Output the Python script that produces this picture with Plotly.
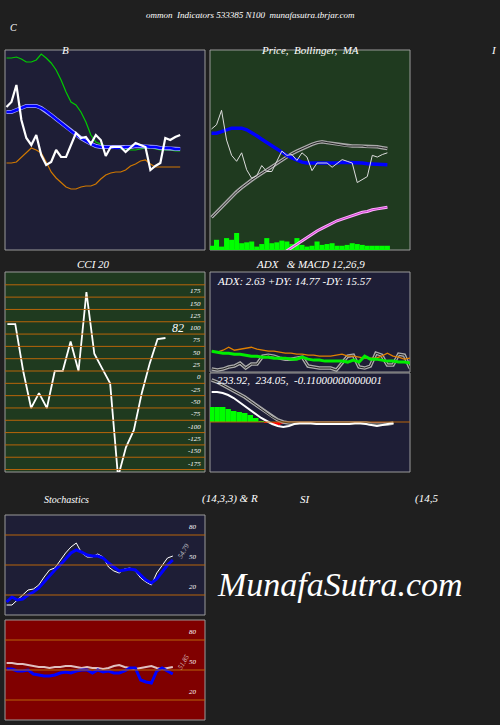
import plotly.graph_objects as go

W, H = 500, 725
BG = "#1f1f1f"
NAVY = "#1e1e36"
GREEN_BG = "#1f3a1f"
RED_BG = "#800000"
GRID = "#b8650a"
FONT = dict(family="Liberation Serif", color="white", style="italic")

# Bollinger panel (B) and price panel
price = [143, 148, 165, 130, 112, 105, 115, 95, 85, 88, 100, 93, 93, 105, 117, 112, 113, 106,
         115, 110, 94, 103, 103, 103, 98, 103, 107, 105, 103, 80, 84, 87, 112, 110, 113, 115]
bb_upper = [192, 192, 193, 191, 188, 188, 190, 196, 192, 187, 180, 170, 158, 148, 145, 138, 128, 115,
            108, 106, 104, 103, 102, 101, 101, 100, 100, 101, 102, 102, 101, 100, 100, 100, 99, 99]
bb_mid = [138, 138, 140, 142, 144, 144, 144, 142, 139, 135, 131, 127, 123, 119, 115, 112, 109, 106,
          104, 103, 103, 103, 102, 102, 103, 103, 104, 104, 104, 103, 103, 102, 102, 102, 101, 101]
bb_lower = [87, 87, 88, 93, 98, 102, 100, 97, 88, 78, 72, 67, 63, 61, 61, 63, 64, 64,
            66, 71, 75, 77, 78, 78, 80, 84, 86, 89, 90, 86, 83, 83, 83, 83, 83, 83]
ma_long = [39, 45, 52, 58, 64, 69, 74, 79, 83, 87, 91, 95, 99, 103, 107, 110, 114, 117,
           120, 123, 125, 127, 128, 127, 126, 125, 124, 123, 123, 123, 123, 122, 122, 122, 121, 120]
ma_pink = [None] * 12 + [-12, -8, -4, 0, 4, 8, 12, 16, 20, 23, 26, 29, 32, 35, 37, 39, 41, 43, 45, 46, 48, 49, 50, 51]
volume = [5, 12, 4, 14, 12, 20, 8, 9, 10, 4, 7, 14, 8, 9, 11, 10, 7, 14,
          6, 4, 5, 10, 6, 7, 8, 5, 5, 6, 8, 7, 6, 5, 5, 5, 5, 5]

cci = [120, 120, 25, -50, -20, -50, 25, 25, 85, 25, 185, 60, 30, 0, -190, -130, -95, -20, 40, 90, 92]
cci_ticks = [175, 150, 125, 100, 75, 50, 25, 0, -25, -50, -75, -100, -125, -150, -175]

adx_pdi = [20, 19, 18, 18, 17, 17, 16, 15, 15, 14, 14, 13, 13, 13, 12, 12, 14, 12,
           11, 11, 10, 10, 10, 10, 9, 11, 9, 15, 12, 12, 11, 10, 10, 9, 9, 8]
adx_mdi = [20, 19, 21, 24, 21, 22, 23, 24, 22, 21, 20, 20, 19, 18, 18, 17, 17, 16,
           16, 15, 15, 15, 16, 17, 15, 15, 14, 13, 13, 13, 15, 18, 15, 14, 12, 13]
adx = [2, 1, 2, 4, 5, 8, 3, 7, 7, 15, 16, 15, 13, 12, 12, 13, 14, 5,
       4, 3, 3, 3, 1, 8, 15, 16, 4, 3, 5, 18, 16, 6, 6, 17, 16, 3]

macd = [30, 30, 29, 27, 24, 20, 16, 12, 8, 4, 1, -2, -4, -5, -4, -2, -1, -1,
        -1, -2, -2, -2, -2, -2, -2, -2, -1, -1, -2, -3, -4, -3, -2, -1]
macd_signal = [42, 40, 37, 34, 31, 28, 25, 21, 17, 13, 9, 5, 2, 0, -1, -1, -1, -1,
               -1, -1, -1, -1, -1, -1, -1, -1, -1, -1, -1, -2, -2, -2, -2, -1]
macd_hist = [15, 15, 15, 13, 11, 10, 9, 7, 4, 1, -1, -2, -3, -2, -1, 0, 0, 0,
             0, -1, -1, -1, 0, 0, 0, 0, 0, 0, -1, -2, -2, -1, 0, 0]

stoch_k = [10, 10, 15, 20, 25, 26, 30, 38, 45, 47, 55, 62, 68, 72, 62, 58, 58, 61,
           58, 48, 44, 42, 46, 47, 44, 37, 33, 30, 42, 50, 57, 59]
stoch_d = [13, 18, 15, 16, 20, 23, 27, 33, 40, 45, 50, 56, 62, 65, 63, 60, 59, 59,
           57, 52, 48, 44, 45, 46, 45, 40, 35, 32, 36, 43, 50, 55]
rsi_a = [57, 57, 56, 56, 55, 54, 53, 53, 52, 53, 53, 54, 54, 53, 52, 53, 52, 52,
         51, 52, 54, 55, 53, 52, 51, 52, 53, 54, 52, 51, 52, 53]
rsi_b = [51, 51, 49, 49, 50, 46, 45, 44, 44, 45, 47, 48, 47, 49, 50, 50, 47, 50,
         48, 49, 47, 47, 49, 52, 52, 40, 38, 37, 49, 52, 49, 46]


def xd(a, b):
    return [a / W, b / W]


def yd(top, bot):
    return [1 - bot / H, 1 - top / H]


fig = go.Figure()
layout = dict(width=W, height=H, margin=dict(l=0, r=0, t=0, b=0), paper_bgcolor=BG,
              showlegend=False, font=FONT)
panels = [
    # name, x px, y px, bg, x max, yrange
    ("1", (5, 205), (50, 250), NAVY, 40, [0, 200]),
    ("2", (210, 410), (50, 250), GREEN_BG, 39.5, [0.6, 236]),
    ("3", (5, 205), (272, 472), GREEN_BG, 25, [-180, 226]),
    ("4", (210, 410), (272, 372), NAVY, 35, [-1, 100]),
    ("5", (210, 410), (373, 472), NAVY, 36, [-50, 49]),
    ("6", (5, 205), (515, 615), NAVY, 37, [0, 100]),
    ("7", (5, 205), (620, 720), RED_BG, 37, [0, 100]),
]
shapes = []
for n, (x0, x1), (y0, y1), bg, xmax, yr in panels:
    sx = "" if n == "1" else n
    layout["xaxis" + sx] = dict(domain=xd(x0, x1), range=[-0.3, xmax], visible=False,
                                anchor="y" + sx)
    layout["yaxis" + sx] = dict(domain=yd(y0, y1), range=yr, anchor="x" + sx,
                                showticklabels=False, zeroline=False, showgrid=False, ticks="")
    shapes.append(dict(type="rect", xref="paper", yref="paper", x0=x0 / W, x1=x1 / W,
                       y0=1 - y1 / H, y1=1 - y0 / H, fillcolor=bg,
                       line=dict(color="#9a9a9a", width=1), layer="below"))

# horizontal orange grid lines
for v in cci_ticks + [200]:
    shapes.append(dict(type="line", xref="x3 domain", yref="y3", x0=0, x1=1, y0=v, y1=v,
                       line=dict(color=GRID, width=1)))
for ax in ["6", "7"]:
    for v in [20, 50, 80]:
        shapes.append(dict(type="line", xref=f"x{ax} domain", yref="y" + ax, x0=0, x1=1, y0=v, y1=v,
                           line=dict(color=GRID, width=1)))
shapes.append(dict(type="line", xref="x5 domain", yref="y5", x0=0, x1=1, y0=0, y1=0,
                   line=dict(color=GRID, width=1)))
layout["shapes"] = shapes


def line(y, ax, color, width):
    xa = "x" if ax == "1" else "x" + ax
    ya = "y" if ax == "1" else "y" + ax
    fig.add_trace(go.Scatter(x=list(range(len(y))), y=y, mode="lines",
                             line=dict(color=color, width=width), xaxis=xa, yaxis=ya,
                             connectgaps=False))


def double(y, ax, width):
    line(y, ax, "#aaaaaa", width + 2)
    line(y, ax, "#222222", max(width - 0.5, 1))


# Panel B
line(bb_upper, "1", "#00cc00", 1.2)
line(bb_lower, "1", "#d07800", 1.2)
line(bb_mid, "1", "#aaaaff", 4)
line(bb_mid, "1", "#0000ff", 2.5)
line(price, "1", "white", 2.2)

# Price panel
fig.add_trace(go.Bar(x=list(range(len(volume))), y=volume, base=0.6, marker_color="#00ff00",
                     marker_line_width=0, width=1, xaxis="x2", yaxis="y2"))
double(ma_long, "2", 1.5)
line(ma_pink, "2", "#ffaaff", 3)
line(ma_pink, "2", "#cc44cc", 1)
line(bb_mid, "2", "#0000ff", 3.5)
line(price, "2", "#dddddd", 1)

# CCI
line(cci, "3", "white", 1.8)

# ADX
double(adx, "4", 1.5)
line(adx_mdi, "4", "#e08000", 1.3)
line(adx_pdi, "4", "#00ee00", 3)

# MACD
fig.add_trace(go.Bar(x=list(range(len(macd_hist))), y=macd_hist, width=1,
                     marker_color=["#00ff00" if v > 0 else "#ff0000" for v in macd_hist],
                     marker_line_width=0, xaxis="x5", yaxis="y5"))
double(macd_signal, "5", 1.5)
line(macd, "5", "white", 2)

# Stochastics / RSI
line(stoch_k, "6", "white", 1)
line(stoch_d, "6", "#0000ff", 3)
line(rsi_a, "7", "#e0c0c0", 2)
line(rsi_b, "7", "#0000ff", 3)

ann = []


def text(x, y, s, size=11, **kw):
    ann.append(dict(x=x / W, y=1 - y / H, xref="paper", yref="paper", text=s, showarrow=False,
                    font=dict(size=size, family="Liberation Serif", color="white", style="italic"), **kw))


text(250, 8, "ommon  Indicators 533385 N100  munafasutra.tbrjar.com", 9)
text(8, 20, "C", 10)
text(60, 42, "B", 11)
text(310, 42, "Price,  Bollinger,  MA", 11)
text(499, 42, "I", 11, xanchor="right")
text(75, 264, "CCI 20", 11)
text(310, 264, "ADX   & MACD 12,26,9", 11)
text(42, 507, "Stochastics", 10)
text(230, 507, "(14,3,3) & R", 11)
text(305, 507, "SI", 11)
text(440, 507, "(14,5", 11)
text(215, 281, "ADX: 2.63 +DY: 14.77 -DY: 15.57", 11, xanchor="left")
text(215, 380, "233.92,  234.05,  -0.11000000000001", 11, xanchor="left")
text(178, 328, "82", 12)
for v in cci_ticks:
    ann.append(dict(x=0.99, y=v + 12, xref="x3 domain", yref="y3", text=str(v), showarrow=False,
                    xanchor="right", font=dict(size=7, family="Liberation Serif", color="white",
                                               style="italic")))
for ax in ["6", "7"]:
    for v in [20, 50, 80]:
        ann.append(dict(x=0.97, y=v + 8, xref=f"x{ax} domain", yref="y" + ax, text=str(v),
                        showarrow=False, xanchor="right",
                        font=dict(size=7, family="Liberation Serif", color="white", style="italic")))
text(184, 563, "54.79", 7, textangle=-60, opacity=0.7)
text(184, 674, "51.85", 7, textangle=-60, opacity=0.7)
text(215, 605, "MunafaSutra.com", 34, xanchor="left")
layout["annotations"] = ann

fig.update_layout(**layout)
fig.write_html("out.html", config={"displayModeBar": False},
               post_script="document.body.style.margin='0';window.dispatchEvent(new Event('resize'));")
